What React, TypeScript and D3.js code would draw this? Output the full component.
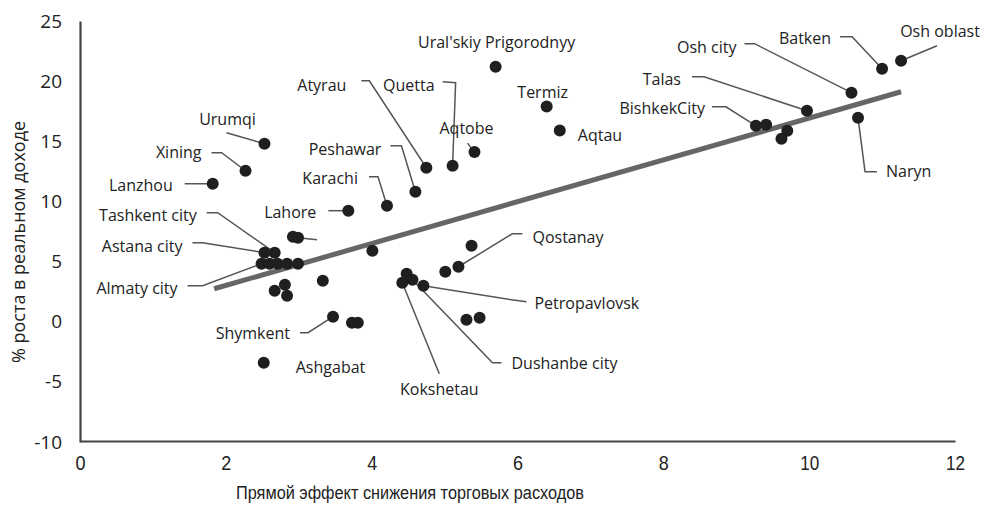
import React, { useEffect, useRef } from 'react';
import * as d3 from 'd3';

// regions: x = direct effect of lower trade costs, y = % real income growth
const names = [
  'Urumqi', 'Xining', 'Lanzhou', 'Lahore', 'Karachi', 'Peshawar', 'Atyrau', 'Quetta',
  'Aqtobe', "Ural'skiy Prigorodnyy", 'Termiz', 'Aqtau', '', '', 'Tashkent city',
  'Astana city', 'Almaty city', '', '', '', '', '', '', '', '', '', 'Shymkent', '', '',
  'Ashgabat', '', 'Qostanay', '', '', 'Kokshetau', 'Dushanbe city', 'Petropavlovsk', '',
  '', 'BishkekCity', '', '', '', 'Talas', 'Osh city', 'Naryn', 'Batken', 'Osh oblast',
];
const xValues = [
  2.53, 2.27, 1.82, 3.68, 4.21, 4.6, 4.75, 5.11,
  5.41, 5.7, 6.4, 6.58, 2.92, 2.99, 2.67,
  2.53, 2.49, 2.6, 2.71, 2.84, 2.99, 4.01, 3.33, 2.81, 2.67, 2.84, 3.47, 3.73, 3.81,
  2.52, 5.37, 5.19, 5.01, 4.48, 4.42, 4.56, 4.71, 5.3,
  5.48, 9.27, 9.41, 9.7, 9.62, 9.97, 10.58, 10.67, 11.0, 11.26,
];
const yValues = [
  14.8, 12.55, 11.47, 9.23, 9.64, 10.8, 12.8, 12.97,
  14.1, 21.2, 17.9, 15.9, 7.07, 6.98, 5.74,
  5.74, 4.82, 4.82, 4.82, 4.82, 4.82, 5.9, 3.41, 3.08, 2.58, 2.16, 0.42, -0.08, -0.08,
  -3.41, 6.32, 4.57, 4.16, 3.99, 3.24, 3.49, 2.99, 0.17,
  0.33, 16.29, 16.38, 15.88, 15.21, 17.54, 19.04, 16.96, 21.03, 21.7,
];

// fitted trend line, end points
const trendX = [1.84, 11.26];
const trendY = [2.74, 19.12];

const xTicks = [0, 2, 4, 6, 8, 10, 12];
const yTicks = [25, 20, 15, 10, 5, 0, -5, -10];
const xTitle = 'Прямой эффект снижения торговых расходов';
const yTitle = '% роста в реальном доходе';

// label placement: point index, leader bends and text spot (px offsets from the dot)
const callouts = [
  { i: 0, leader: [[-38, -11]], at: [-37, -24], anchor: 'middle' },
  { i: 1, leader: [[-24, -18], [-34, -18]], at: [-44, -18], anchor: 'end' },
  { i: 2, leader: [[-28, 0]], at: [-40, 2], anchor: 'end' },
  { i: 3, leader: [[-20, 0]], at: [-32, 2], anchor: 'end' },
  { i: 4, leader: [[-9, -29], [-18, -29]], at: [-29, -27], anchor: 'end' },
  { i: 5, leader: [[-14, -46], [-25, -46]], at: [-34, -42], anchor: 'end' },
  { i: 6, leader: [[-57, -87], [-65, -87]], at: [-80, -82], anchor: 'end' },
  { i: 7, leader: [[3, -83], [-10, -84]], at: [-18, -80], anchor: 'end' },
  { i: 8, leader: [[-7, -9]], at: [-8, -24], anchor: 'middle' },
  { i: 9, leader: [], at: [1, -24], anchor: 'middle' },
  { i: 10, leader: [], at: [-4, -14], anchor: 'middle' },
  { i: 11, leader: [], at: [18, 5], anchor: 'start' },
  { i: 13, leader: [[19, 2]], at: [0, 0], anchor: 'start' },
  { i: 14, leader: [[-57, -40], [-68, -40]], at: [-78, -37], anchor: 'end' },
  { i: 15, leader: [[-62, -10], [-72, -10]], at: [-82, -6], anchor: 'end' },
  { i: 16, leader: [[-59, 22], [-74, 22]], at: [-84, 25], anchor: 'end' },
  { i: 26, leader: [[-25, 16], [-33, 16]], at: [-43, 17], anchor: 'end' },
  { i: 29, leader: [], at: [32, 5], anchor: 'start' },
  { i: 34, leader: [[37, 91]], at: [37, 107], anchor: 'middle' },
  { i: 35, leader: [[80, 83], [89, 83]], at: [99, 84], anchor: 'start' },
  { i: 36, leader: [[88, 14], [103, 16]], at: [111, 18], anchor: 'start' },
  { i: 31, leader: [[54, -33], [64, -33]], at: [74, -29], anchor: 'start' },
  { i: 39, leader: [[-30, -19], [-44, -19]], at: [-51, -17], anchor: 'end' },
  { i: 43, leader: [[-103, -34], [-115, -34]], at: [-126, -31], anchor: 'end' },
  { i: 44, leader: [[-97, -49], [-107, -49]], at: [-115, -45], anchor: 'end' },
  { i: 46, leader: [[-30, -32], [-42, -32]], at: [-51, -30], anchor: 'end' },
  { i: 47, leader: [[36, -15]], at: [39, -29], anchor: 'middle' },
  { i: 45, leader: [[7, 54], [19, 54]], at: [28, 54], anchor: 'start' },
];

const labelFont = '"Open Sans", "Noto Sans", sans-serif';
const narrowFont = '"Liberation Sans", Arial, sans-serif';

function ScatterChart() {
  const node = useRef<SVGSVGElement | null>(null);

  useEffect(() => {
    const svg = d3.select(node.current);
    svg.selectAll('*').remove();

    const x = d3.scaleLinear().domain([0, 12]).range([80, 955]);
    const y = d3.scaleLinear().domain([-10, 25]).range([442, 21]);

    const points = names.map((name, i) => ({ name, x: xValues[i], y: yValues[i] }));

    // axes
    const yAxis = svg.append('g')
      .attr('transform', 'translate(80,0)')
      .call(d3.axisLeft(y)
        .tickValues(yTicks)
        .tickSize(0)
        .tickPadding(18)
        .tickFormat(d => (+d < 0 ? `-${-d}` : `${d}`)));
    yAxis.select('.domain').attr('stroke', '#444').attr('stroke-width', 2.2);
    yAxis.selectAll('text')
      .attr('font-family', labelFont)
      .attr('font-size', 19)
      .attr('fill', '#222');

    const xAxis = svg.append('g')
      .attr('transform', 'translate(0,441)')
      .call(d3.axisBottom(x).tickValues(xTicks).tickSize(0).tickPadding(15));
    xAxis.select('.domain').attr('stroke', '#444').attr('stroke-width', 2.2);
    // narrow digits, squeezed like the condensed face in the original
    xAxis.selectAll<SVGTextElement, number>('text')
      .attr('font-family', narrowFont)
      .attr('font-size', 20)
      .attr('fill', '#222')
      .attr('textLength', d => (d >= 10 ? 19 : 10))
      .attr('lengthAdjust', 'spacingAndGlyphs');

    // axis titles
    svg.append('text')
      .attr('x', 410)
      .attr('y', 499)
      .attr('text-anchor', 'middle')
      .attr('font-family', narrowFont)
      .attr('font-size', 18)
      .attr('fill', '#222')
      .attr('textLength', 348)
      .attr('lengthAdjust', 'spacingAndGlyphs')
      .text(xTitle);

    svg.append('text')
      .attr('transform', 'translate(25,242) rotate(-90)')
      .attr('text-anchor', 'middle')
      .attr('font-family', labelFont)
      .attr('font-size', 18)
      .attr('fill', '#222')
      .text(yTitle);

    // trend line
    svg.append('path')
      .datum(trendX.map((v, i) => [v, trendY[i]]))
      .attr('d', d3.line().x(d => x(d[0])).y(d => y(d[1])))
      .attr('stroke', '#666')
      .attr('stroke-width', 5)
      .attr('fill', 'none');

    // leader lines
    svg.append('g')
      .selectAll('path')
      .data(callouts.filter(c => c.leader.length))
      .join('path')
      .attr('d', c => {
        const px = x(points[c.i].x);
        const py = y(points[c.i].y);
        return d3.line()([[px, py], ...c.leader.map(([dx, dy]) => [px + dx, py + dy] as [number, number])]);
      })
      .attr('stroke', '#555')
      .attr('stroke-width', 1.5)
      .attr('fill', 'none');

    // dots
    svg.append('g')
      .selectAll('circle')
      .data(points)
      .join('circle')
      .attr('cx', d => x(d.x))
      .attr('cy', d => y(d.y))
      .attr('r', 6)
      .attr('fill', '#1f1f1f');

    // labels
    svg.append('g')
      .selectAll('text')
      .data(callouts.filter(c => points[c.i].name))
      .join('text')
      .attr('x', c => x(points[c.i].x) + c.at[0])
      .attr('y', c => y(points[c.i].y) + c.at[1])
      .attr('dy', '0.35em')
      .attr('text-anchor', c => c.anchor)
      .attr('font-family', labelFont)
      .attr('font-size', 16)
      .attr('fill', '#222')
      .text(c => points[c.i].name);
  }, []);

  return <svg ref={node} width={984} height={507} style={{ display: 'block' }} />;
}

export default function App() {
  return (
    <>
      <style>{'body { margin: 0; background: #fff; }'}</style>
      <ScatterChart />
    </>
  );
}
